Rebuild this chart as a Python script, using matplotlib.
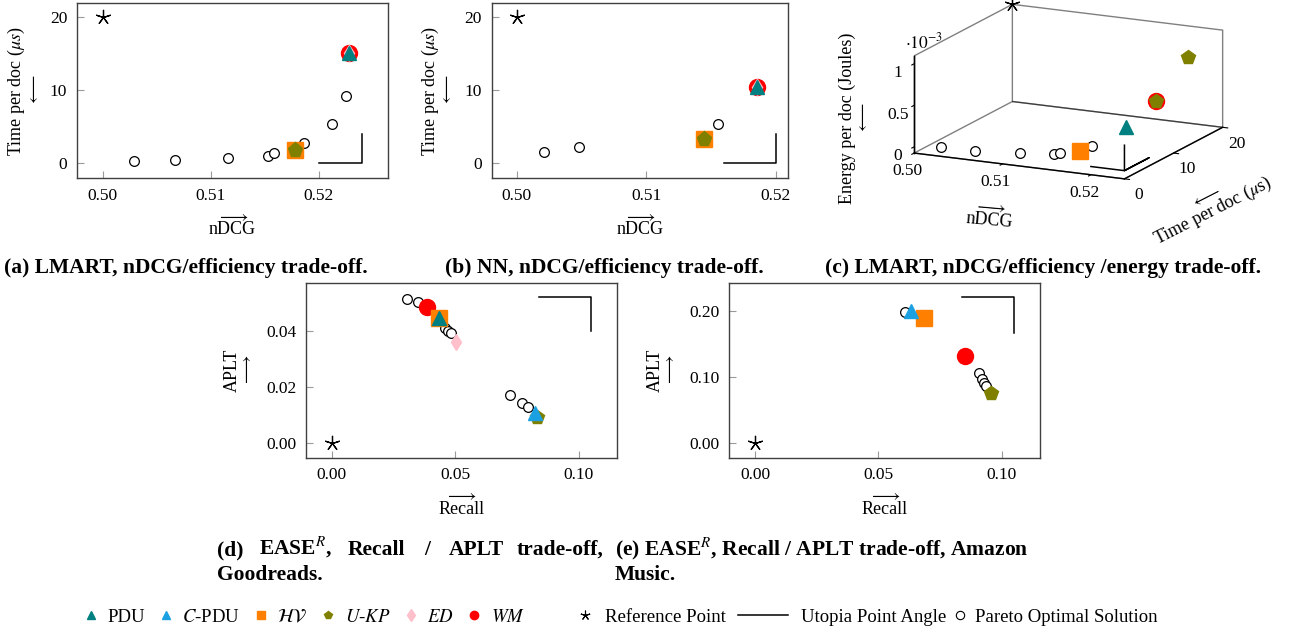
import matplotlib
matplotlib.use("Agg")
import matplotlib.pyplot as plt
from matplotlib.lines import Line2D

plt.rcParams['font.family'] = ['Liberation Serif', 'DejaVu Serif']
plt.rcParams['mathtext.fontset'] = 'stix'
plt.rcParams['font.size'] = 12

TEAL = '#008080'
CYAN = '#1ba1e2'
ORANGE = '#ff8000'
OLIVE = '#808000'
PINK = '#ffc0cb'
RED = '#ff0000'

# ---- (a) LMART: nDCG vs time per doc
a_ref = [0.50, 20.0]
a_par_x = [0.5029, 0.5067, 0.5116, 0.5153, 0.5158, 0.5186, 0.5212, 0.5225]
a_par_y = [0.32, 0.40, 0.64, 1.0, 1.37, 2.7, 5.4, 9.2]
a_wm = [0.5228, 15.07]
a_ed = [0.5228, 15.07]
a_pdu = [0.5228, 15.07]
a_hv = [0.51775, 1.8]
a_ukp = [0.51775, 1.8]
a_utopia_x = [0.520, 0.524, 0.524]
a_utopia_y = [0.0, 0.0, 4.0]

# ---- (b) NN: nDCG vs time per doc
b_ref = [0.50, 20.0]
b_par_x = [0.5021, 0.5048, 0.5155]
b_par_y = [1.55, 2.2, 5.3]
b_wm = [0.5185, 10.4]
b_ed = [0.5185, 10.4]
b_pdu = [0.5185, 10.4]
b_hv = [0.51445, 3.3]
b_ukp = [0.51445, 3.3]
b_utopia_x = [0.516, 0.520, 0.520]
b_utopia_y = [0.0, 0.0, 4.0]

# ---- (c) LMART: nDCG / time / energy (energy in 1e-3 Joules)
c_ref = [0.50, 20.0, 1.095]
c_par_x = [0.5029, 0.5067, 0.5116, 0.5153, 0.5158, 0.5186]
c_par_t = [0.32, 0.40, 0.64, 1.0, 1.37, 2.7]
c_par_e = [0.024, 0.030, 0.054, 0.079, 0.094, 0.171]
c_hv = [0.51775, 1.8, 0.121]
c_pdu = [0.5228, 2.2, 0.467]
c_wm = [0.5228, 8.3, 0.596]
c_ukp_x = [0.5228, 0.5228]
c_ukp_t = [8.3, 14.7]
c_ukp_e = [0.596, 0.92]
c_utopia_x = [0.5200, 0.5238, 0.5238, 0.5238, 0.5238]
c_utopia_t = [0.0, 0.0, 5.0, 0.0, 0.0]
c_utopia_e = [0.024, 0.024, 0.024, 0.024, 0.33]

# ---- (d) EASE^R Goodreads: recall vs APLT
d_ref = [0.0, 0.0]
d_par_x = [0.0305, 0.0350, 0.0458, 0.0472, 0.0481, 0.0722, 0.0769, 0.0796]
d_par_y = [0.0514, 0.0504, 0.0410, 0.0401, 0.0392, 0.0171, 0.0143, 0.0129]
d_wm = [0.0384, 0.0484]
d_hv = [0.0433, 0.0445]
d_pdu = [0.0435, 0.0447]
d_ed = [0.0503, 0.0362]
d_ukp = [0.0830, 0.0093]
d_cpdu = [0.0823, 0.0108]
d_utopia_x = [0.084, 0.105, 0.105]
d_utopia_y = [0.052, 0.052, 0.040]

# ---- (e) EASE^R Amazon Music: recall vs APLT
e_ref = [0.0, 0.0]
e_par_x = [0.0609, 0.0906, 0.0919, 0.0929, 0.0938]
e_par_y = [0.1985, 0.1056, 0.0970, 0.0916, 0.0870]
e_cpdu = [0.0631, 0.2000]
e_hv = [0.0683, 0.1900]
e_wm = [0.0853, 0.1314]
e_ukp = [0.0956, 0.0765]
e_utopia_x = [0.084, 0.105, 0.105]
e_utopia_y = [0.2207, 0.2207, 0.1663]

W, H = 1294, 632
fig = plt.figure(figsize=(W / 100, H / 100), dpi=100)


def px_axes(left, top, right, bottom, **kw):
    return fig.add_axes([left / W, 1 - bottom / H, (right - left) / W, (bottom - top) / H], **kw)


def style2d(ax):
    for s in ax.spines.values():
        s.set_color('#404040')
        s.set_linewidth(1.0)
    ax.tick_params(direction='in', length=5, color='#9a9a9a', labelsize=12.5, pad=7)


def big(ax, p, marker, color, ms, z):
    ax.plot(p[0], p[1], marker=marker, ls='none', color=color, ms=ms, zorder=z)


def pareto(ax, xs, ys, ms=7):
    ax.plot(xs, ys, 'o', ms=ms, mfc='white', mec='black', mew=0.9, zorder=3)


def ref(ax, p):
    ax.plot(p[0], p[1], marker=(5, 2, 0), ls='none', color='black', ms=11, mew=0.9, zorder=3)


def utopia(ax, xs, ys):
    ax.plot(xs, ys, color='black', lw=1.1, zorder=2)


def ylab(ax, txt, arrow, x):
    ax.set_ylabel(txt + '\n' + arrow, fontsize=13, linespacing=0.8)
    ax.yaxis.set_label_coords(x, 0.5)


def xlab(ax, txt, y):
    ax.set_xlabel(r'$\longrightarrow$' + '\n' + txt, fontsize=13, linespacing=0.75)
    ax.xaxis.set_label_coords(0.5, y)


# ---------------- (a)
ax = px_axes(77, 3, 388, 178)
style2d(ax)
pareto(ax, a_par_x, a_par_y)
ref(ax, a_ref)
big(ax, a_wm, 'o', RED, 11.5, 4)
big(ax, a_ed, 'd', PINK, 8, 5)
big(ax, a_pdu, '^', TEAL, 10, 6)
big(ax, a_hv, 's', ORANGE, 11, 4)
big(ax, a_ukp, 'p', OLIVE, 11, 5)
utopia(ax, a_utopia_x, a_utopia_y)
ax.set_xlim(0.4976, 0.5264)
ax.set_ylim(-2.06, 21.96)
ax.set_xticks([0.50, 0.51, 0.52], ['0.50', '0.51', '0.52'])
ax.set_yticks([0, 10, 20], ['0', '10', '20'])
ylab(ax, r'Time per doc ($\mu s$)', r'$\longleftarrow$', -0.113)
xlab(ax, 'nDCG', -0.17)

# ---------------- (b)
ax = px_axes(491.7, 3, 788, 178)
style2d(ax)
pareto(ax, b_par_x, b_par_y)
ref(ax, b_ref)
big(ax, b_wm, 'o', RED, 11.5, 4)
big(ax, b_ed, 'd', PINK, 8, 5)
big(ax, b_pdu, '^', TEAL, 10, 6)
big(ax, b_hv, 's', ORANGE, 11, 4)
big(ax, b_ukp, 'p', OLIVE, 11, 5)
utopia(ax, b_utopia_x, b_utopia_y)
ax.set_xlim(0.49807, 0.52093)
ax.set_ylim(-2.06, 21.96)
ax.set_xticks([0.50, 0.51, 0.52], ['0.50', '0.51', '0.52'])
ax.set_yticks([0, 10, 20], ['0', '10', '20'])
ylab(ax, r'Time per doc ($\mu s$)', r'$\longleftarrow$', -0.124)
xlab(ax, 'nDCG', -0.17)

# ---------------- (c) 3D
ax3 = px_axes(863, -103, 1263, 297, projection='3d')
ax3.patch.set_alpha(0)
ax3.set_proj_type('ortho')
ax3.view_init(elev=14.7, azim=-64.2)
ax3.set_box_aspect((235.5, 227.5, 101.3), zoom=0.825)
for axis in (ax3.xaxis, ax3.yaxis, ax3.zaxis):
    axis.pane.fill = False
    axis.pane.set_edgecolor('black')
    axis.pane.set_linewidth(1.0)
    axis.line.set_color('black')
    axis.line.set_linewidth(1.0)
    axis._axinfo['tick']['inward_factor'] = 0.3
    axis._axinfo['tick']['outward_factor'] = 0.0
    axis._axinfo['tick']['color'] = '#9a9a9a'
ax3.grid(False)
ax3.set_xlim(0.50, 0.5238)
ax3.set_ylim(0, 20)
ax3.set_zlim(-0.075, 1.095)
# front-left vertical edge of the box
x0, x1 = ax3.get_xlim()
y0, y1 = ax3.get_ylim()
z0, z1 = ax3.get_zlim()
ax3.plot([x0, x0], [y0, y0], [z0, z1], color='black', lw=1.0)
ax3.plot(c_par_x, c_par_t, c_par_e, 'o', ms=7, mfc='white', mec='black', mew=0.9)
ax3.plot([c_ref[0]], [c_ref[1]], [c_ref[2]], marker=(5, 2, 0), ls='none', color='black', ms=11, mew=0.9)
ax3.plot([c_hv[0]], [c_hv[1]], [c_hv[2]], 's', color=ORANGE, ms=11)
ax3.plot([c_pdu[0]], [c_pdu[1]], [c_pdu[2]], '^', color=TEAL, ms=10)
ax3.plot([c_wm[0]], [c_wm[1]], [c_wm[2]], 'o', color=RED, ms=11.5)
ax3.plot(c_ukp_x, c_ukp_t, c_ukp_e, 'p', color=OLIVE, ms=10.5, ls='none')
ax3.plot(c_utopia_x, c_utopia_t, c_utopia_e, color='black', lw=1.1)
ax3.set_xlim(x0, x1)
ax3.set_ylim(y0, y1)
ax3.set_zlim(z0, z1)
ax3.set_xticks([0.50, 0.51, 0.52], ['0.50', '0.51', '0.52'])
ax3.set_yticks([0, 10, 20], ['0', '10', '20'])
ax3.set_zticks([0, 0.5, 1], ['0', '0.5', '1'])
ax3.zaxis.set_ticks_position('lower')
ax3.tick_params(labelsize=12.5, pad=2)
ax3.tick_params(axis='z', pad=0)
fig.text(905 / W, 1 - 42 / H, r'$\cdot10^{-3}$', fontsize=12.5, va='center', ha='left')
fig.text(855 / W, 1 - 118 / H, 'Energy per doc (Joules)\n' + r'$\longleftarrow$',
         rotation=90, fontsize=13, ha='center', va='center', linespacing=0.8, multialignment='center')
fig.text(990 / W, 1 - 214 / H, r'$\longrightarrow$' + '\nnDCG', rotation=-5, fontsize=13,
         ha='center', va='center', linespacing=0.75, multialignment='center')
fig.text(1210 / W, 1 - 205 / H, r'$\longleftarrow$' + '\nTime per doc ($\\mu$s)', rotation=27, fontsize=13,
         ha='center', va='center', linespacing=0.8, multialignment='center', rotation_mode='anchor')

# ---------------- (d)
ax = px_axes(306, 282.7, 616.7, 457.7)
style2d(ax)
pareto(ax, d_par_x, d_par_y)
ref(ax, d_ref)
big(ax, d_wm, 'o', RED, 11.5, 4)
big(ax, d_hv, 's', ORANGE, 11, 4)
big(ax, d_pdu, '^', TEAL, 10, 5)
big(ax, d_ed, 'd', PINK, 8, 4)
big(ax, d_ukp, 'p', OLIVE, 10.5, 4)
big(ax, d_cpdu, '^', CYAN, 10, 5)
utopia(ax, d_utopia_x, d_utopia_y)
ax.set_xlim(-0.0105, 0.1154)
ax.set_ylim(-0.00512, 0.0572)
ax.set_xticks([0.0, 0.05, 0.10], ['0.00', '0.05', '0.10'])
ax.set_yticks([0.0, 0.02, 0.04], ['0.00', '0.02', '0.04'])
ylab(ax, 'APLT', r'$\longrightarrow$', -0.164)
xlab(ax, 'Recall', -0.167)

# ---------------- (e)
ax = px_axes(729.3, 282.7, 1040, 457.7)
style2d(ax)
pareto(ax, e_par_x, e_par_y)
ref(ax, e_ref)
big(ax, e_cpdu, '^', CYAN, 10, 5)
big(ax, e_hv, 's', ORANGE, 11, 4)
big(ax, e_wm, 'o', RED, 11.5, 4)
big(ax, e_ukp, 'p', OLIVE, 10.5, 4)
utopia(ax, e_utopia_x, e_utopia_y)
ax.set_xlim(-0.0104, 0.1155)
ax.set_ylim(-0.0218, 0.2428)
ax.set_xticks([0.0, 0.05, 0.10], ['0.00', '0.05', '0.10'])
ax.set_yticks([0.0, 0.10, 0.20], ['0.00', '0.10', '0.20'])
ylab(ax, 'APLT', r'$\longrightarrow$', -0.165)
xlab(ax, 'Recall', -0.167)

# ---------------- captions
cap = dict(fontsize=15.5, fontweight='bold', va='baseline', ha='left')
fig.text(4 / W, 1 - 273 / H, '(a) LMART, nDCG/efficiency trade-off.', **cap)
fig.text(445 / W, 1 - 273 / H, '(b) NN, nDCG/efficiency trade-off.', **cap)
fig.text(825 / W, 1 - 273 / H, '(c) LMART, nDCG/efficiency /energy trade-off.', **cap)
for word, x in [('(d)', 216.7), ('EASE$^{R}$,', 259), ('Recall', 348), ('/', 424), ('APLT', 449)]:
    fig.text(x / W, 1 - 555 / H, word, **cap)
fig.text(604 / W, 1 - 555 / H, 'trade-off,', **dict(cap, ha='right'))
fig.text(216.7 / W, 1 - 580 / H, 'Goodreads.', **cap)
fig.text(615 / W, 1 - 555 / H, '(e) EASE$^{R}$, Recall / APLT trade-off, Amazon', **cap)
fig.text(615 / W, 1 - 580 / H, 'Music.', **cap)


# ---------------- legend
def h(marker, color, ms=6, **kw):
    return Line2D([], [], marker=marker, color=color, ls='none', ms=ms, **kw)


ly = 1 - 617 / H
lkw = dict(loc='center left', frameon=False, fontsize=13.5, borderaxespad=0, borderpad=0)
fig.legend([h('^', TEAL), h('^', CYAN), h('s', ORANGE), h('p', OLIVE), h('d', PINK, 6), h('o', RED)],
           ['PDU', '$C$-PDU', r'$\mathcal{HV}$', '$U$-$KP$', '$ED$', '$WM$'],
           bbox_to_anchor=(85 / W, ly), ncol=6, handlelength=0.67, handletextpad=0.55,
           columnspacing=0.75, **lkw)
fig.legend([h((5, 2, 0), 'black', 7, mew=0.8)], ['Reference Point'],
           bbox_to_anchor=(576 / W, ly), handlelength=1.0, handletextpad=0.55, **lkw)
fig.legend([Line2D([], [], color='black', lw=1.1)], ['Utopia Point Angle'],
           bbox_to_anchor=(738 / W, ly), handlelength=2.67, handletextpad=0.67, **lkw)
fig.legend([h('o', 'black', 6, mfc='white', mew=0.8)], ['Pareto Optimal Solution'],
           bbox_to_anchor=(954 / W, ly), handlelength=0.67, handletextpad=0.45, **lkw)

fig.savefig('out.png', dpi=100)
